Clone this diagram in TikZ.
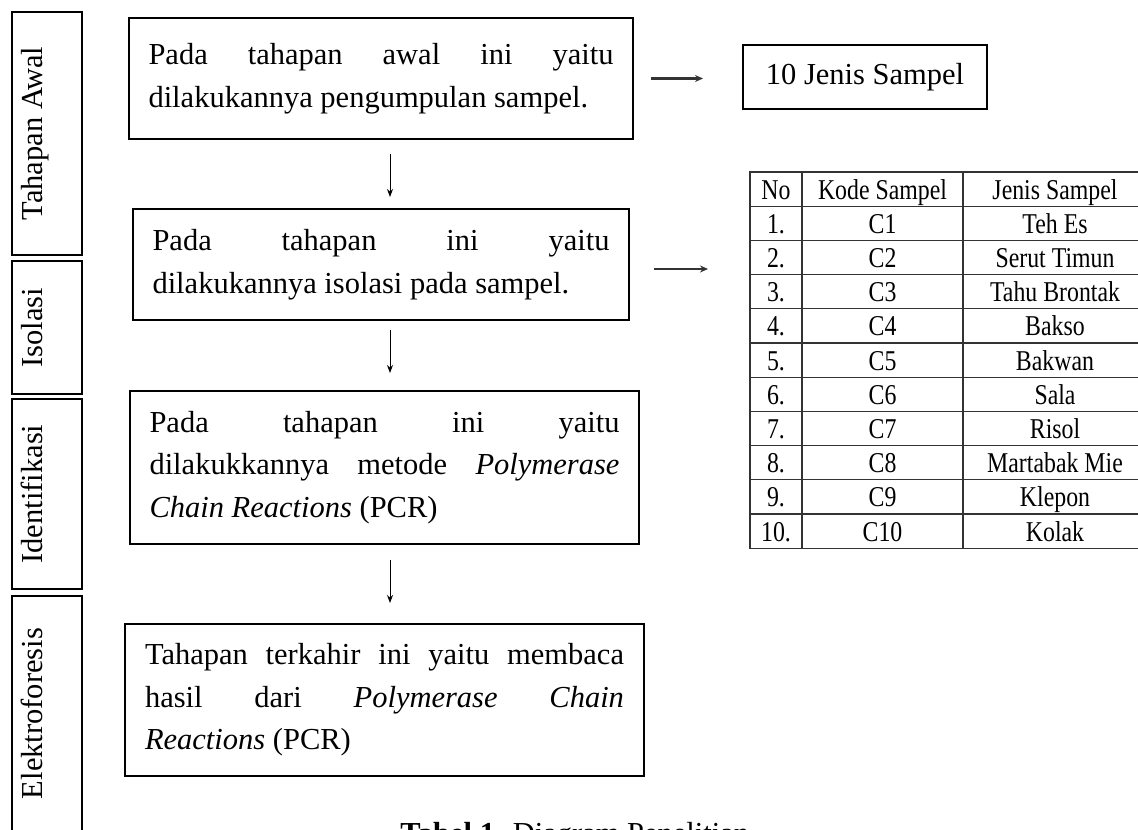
\documentclass[tikz,border=0pt]{standalone}
\usepackage{fontspec}
\setmainfont{Liberation Serif}
\usepackage{graphicx}
\usetikzlibrary{arrows.meta}
\hbadness=10000
\setlength\parindent{0pt}

\newcommand\tabfont{\fontsize{14.35pt}{17pt}\selectfont}
\newcommand\tabtxt[1]{\scalebox{0.83}[1]{#1}}

\tikzset{
  stage/.style={draw, line width=1pt, anchor=north west, align=justify, inner xsep=9.75pt, inner ysep=0pt},
  phase/.style={draw, line width=1pt, rotate=90, inner sep=0pt, text height=15pt, text depth=20pt},
  cell/.style={draw=black!80, line width=0.6pt},
  tabtext/.style={anchor=base, font=\tabfont},
  downarr/.style={-{Stealth[length=4pt,width=3pt]}, line width=0.5pt},
  sidearr/.style={-{Stealth[length=4pt,width=3.5pt]}, line width=1.1pt, black!80}
}

\begin{document}
\begin{tikzpicture}[x=0.5pt, y=-0.5pt, font=\fontsize{15.25pt}{21.25pt}\selectfont]

 \useasboundingbox (0,0) rectangle (1138,829);
 \clip (0,0) rectangle (1138,829);
 \fill[white] (0,0) rectangle (1138,829);

	%phases
 \node[phase, minimum width=121.5pt] (awal) at (47,133.5) {Tahapan Awal};
 \node[phase, minimum width=66.5pt] (isolasi) at (47,327.5) {Isolasi};
 \node[phase, minimum width=95pt] (ident) at (47,494) {Identifikasi};
 \node[phase, minimum width=117.5pt] (elektro) at (47,713.5) {Elektroforesis};

	%stages
 \node[stage, text width=232.5pt, minimum height=60.5pt] (b1) at (128,17)
    {Pada tahapan awal ini yaitu\linebreak dilakukannya pengumpulan sampel.};
 \node[stage, text width=228.5pt, minimum height=55.5pt] (b2) at (132,208)
    {Pada tahapan ini yaitu\linebreak dilakukannya isolasi pada sampel.};
 \node[stage, text width=235pt, minimum height=76.5pt] (b3) at (129,390)
    {Pada tahapan ini yaitu\linebreak dilakukkannya metode \textit{Polymerase}\linebreak \textit{Chain Reactions} (PCR)};
 \node[stage, text width=239.5pt, minimum height=76pt, inner xsep=10pt] (b4) at (124,623)
    {Tahapan terkahir ini yaitu membaca\linebreak hasil dari \textit{Polymerase Chain}\linebreak \textit{Reactions} (PCR)};

 \node[draw, line width=1pt, minimum width=122pt, minimum height=32pt, inner sep=0pt] (jml) at (865,77) {10 Jenis Sampel};

	%arrows
 \coordinate (axis) at (390,0);
 \draw[downarr, shorten <=7pt, shorten >=5.5pt] (b1.south -| axis) -- (b2.north -| axis);
 \draw[downarr, shorten <=4.5pt, shorten >=8.5pt] (b2.south -| axis) -- (b3.north -| axis);
 \draw[downarr, shorten <=7.5pt, shorten >=10pt] (b3.south -| axis) -- (b4.north -| axis);

 \draw[sidearr, shorten <=8.5pt, shorten >=19.5pt] (b1.east) -- (b1.east -| jml.west);
 \coordinate (tabw) at (750,269);
 \draw[sidearr, shorten <=12pt, shorten >=21pt] (b2.east |- tabw) -- (tabw);

	%table
 \def\rh{34.2}
    \foreach \i/\nr/\kode/\jenis in {0/No/Kode Sampel/Jenis Sampel, 1/1./C1/Teh Es, 2/2./C2/Serut Timun,
        3/3./C3/Tahu Brontak, 4/4./C4/Bakso, 5/5./C5/Bakwan, 6/6./C6/Sala, 7/7./C7/Risol,
        8/8./C8/Martabak Mie, 9/9./C9/Klepon, 10/10./C10/Kolak}{
         \draw[cell] (750,172+\i*\rh) rectangle (802,172+\i*\rh+\rh);
         \draw[cell] (802,172+\i*\rh) rectangle (963,172+\i*\rh+\rh);
         \draw[cell] (963,172+\i*\rh) rectangle (1147,172+\i*\rh+\rh);
         \node[tabtext] (nr\i) at (776,172+\i*\rh+27) {\tabtxt{\nr}};
         \node[tabtext] (kode\i) at (882.5,172+\i*\rh+27) {\tabtxt{\kode}};
         \node[tabtext] (jenis\i) at (1055,172+\i*\rh+27) {\tabtxt{\jenis}};
    }

	%caption
 \node[anchor=base west, inner sep=0pt] (cap) at (400,843) {\textbf{Tabel 1.} Diagram Penelitian};

\end{tikzpicture}
\end{document}
